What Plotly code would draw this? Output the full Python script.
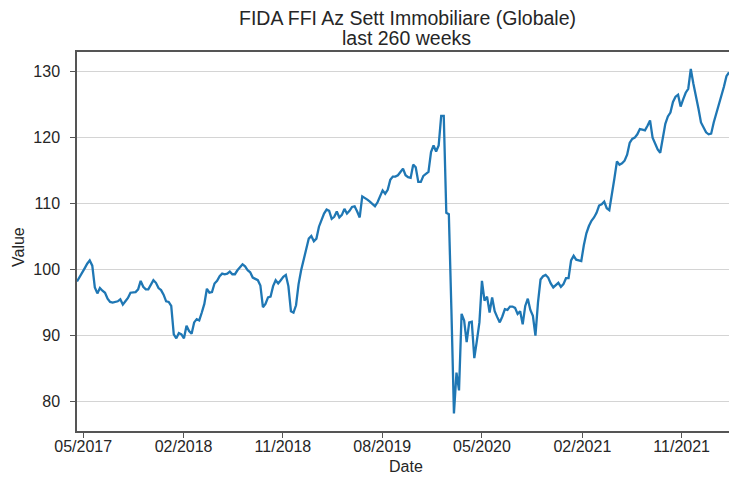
import pandas as pd
import plotly.graph_objects as go

# ---- data -------------------------------------------------------------
start_date = "2017-04-14"
values = [
    98.2, 98.8, 99.5, 100.2, 100.9, 101.4, 100.6, 97.3, 96.4, 97.2,
    96.8, 96.5, 95.6, 95.1, 95.0, 95.1, 95.2, 95.5, 94.7, 95.2,
    95.7, 96.5, 96.6, 96.6, 97.0, 98.3, 97.4, 97.0, 97.0, 97.6,
    98.4, 98.0, 97.2, 96.9, 96.2, 95.2, 95.1, 94.5, 90.2, 89.6,
    90.4, 90.2, 89.6, 91.5, 90.7, 90.3, 92.0, 92.5, 92.3, 93.5,
    94.8, 97.1, 96.5, 96.6, 97.9, 98.3, 99.0, 99.4, 99.3, 99.4,
    99.7, 99.3, 99.3, 99.9, 100.3, 100.8, 100.5, 99.9, 99.6, 98.8,
    98.6, 98.4, 97.6, 94.3, 94.8, 95.8, 95.9, 97.5, 98.4, 97.9,
    98.4, 98.9, 99.2, 97.5, 93.7, 93.5, 94.6, 97.8, 99.9, 101.5,
    103.4, 104.7, 105.1, 104.3, 104.7, 106.5, 107.5, 108.5, 109.1, 108.9,
    107.7, 108.0, 108.8, 107.9, 108.3, 109.2, 108.5, 108.9, 109.5, 109.6,
    108.8, 107.9, 111.1, 110.9, 110.6, 110.3, 109.9, 109.6, 110.2, 111.2,
    112.0, 111.5, 112.1, 113.6, 114.1, 114.1, 114.3, 114.8, 115.3, 114.3,
    114.0, 113.9, 115.9, 115.5, 113.3, 113.3, 114.2, 114.5, 114.8, 117.8,
    118.8, 117.9, 118.8, 123.3, 123.3, 108.6, 108.4, 94.0, 78.2, 84.4,
    81.7, 93.3, 92.3, 89.0, 92.0, 92.1, 86.6, 89.2, 92.0, 98.3,
    95.3, 95.9, 93.5, 95.8, 93.7, 92.8, 92.0, 92.9, 94.0, 93.9,
    94.4, 94.4, 94.2, 93.3, 93.7, 91.7, 94.5, 95.6, 93.9, 93.0,
    90.0, 95.0, 98.5, 99.0, 99.2, 98.8, 97.9, 97.3, 97.6, 98.0,
    97.4, 97.8, 98.7, 98.7, 101.4, 102.1, 101.5, 101.4, 101.3, 103.7,
    105.5, 106.6, 107.4, 107.9, 108.6, 109.7, 109.9, 110.3, 109.3, 109.0,
    111.2, 113.8, 116.4, 115.9, 116.1, 116.5, 117.4, 119.2, 119.8, 120.0,
    120.5, 121.3, 121.2, 121.1, 121.8, 122.6, 120.0, 119.2, 118.2, 117.7,
    119.8, 122.1, 123.2, 123.8, 125.4, 126.2, 126.5, 124.7, 125.8, 126.8,
    127.4, 130.4, 128.2, 126.5, 124.4, 122.3, 121.5, 120.8, 120.5, 120.6,
    122.3, 123.6, 125.0, 126.3, 127.7, 129.3, 129.9,
]
tick_dates = ["2017-05-01", "2018-02-01", "2018-11-01", "2019-08-01",
              "2020-05-01", "2021-02-01", "2021-11-01"]
tick_labels = ["05/2017", "02/2018", "11/2018", "08/2019",
               "05/2020", "02/2021", "11/2021"]
y_ticks = [80, 90, 100, 110, 120, 130]

title_line1 = "FIDA FFI Az Sett Immobiliare (Globale)"
title_line2 = "last 260 weeks"
x_label = "Date"
y_label = "Value"

dates = pd.date_range(start=start_date, periods=len(values), freq="7D")

# ---- figure -----------------------------------------------------------
W, H = 729, 477
FONT = "Liberation Sans, Arial, sans-serif"
TXT = "#262626"
SPINE = "#555555"
L, R, T, B = 77, 0, 52, 46

fig = go.Figure()
fig.add_trace(go.Scatter(
    x=dates, y=values, mode="lines",
    line=dict(color="#1f77b4", width=2.3),
    hoverinfo="x+y", showlegend=False,
))

fig.update_layout(
    width=W, height=H,
    margin=dict(l=L, r=R, t=T, b=B, pad=0),
    paper_bgcolor="white", plot_bgcolor="white",
    font=dict(family=FONT, color=TXT, size=16),
)


def py(pixel_y):
    """page pixel y -> paper fraction"""
    return (H - B - pixel_y) / (H - T - B)


def px(pixel_x):
    return (pixel_x - L) / (W - L - R)


fig.add_annotation(text=title_line1, xref="paper", yref="paper",
                   x=px(407), y=py(18), xanchor="center", yanchor="middle",
                   showarrow=False, font=dict(size=19.5, color=TXT))
fig.add_annotation(text=title_line2, xref="paper", yref="paper",
                   x=px(406), y=py(38), xanchor="center", yanchor="middle",
                   showarrow=False, font=dict(size=19.5, color=TXT))
fig.add_annotation(text=x_label, xref="paper", yref="paper",
                   x=px(406), y=py(466), xanchor="center", yanchor="middle",
                   showarrow=False, font=dict(size=16, color=TXT))
fig.add_annotation(text=y_label, xref="paper", yref="paper",
                   x=px(18), y=py(247), xanchor="center", yanchor="middle",
                   textangle=-90,
                   showarrow=False, font=dict(size=16, color=TXT))

fig.update_xaxes(
    range=[dates[0], dates[-1]],
    tickvals=pd.to_datetime(tick_dates), ticktext=tick_labels,
    showgrid=False, zeroline=False,
    showline=True, linecolor=SPINE, linewidth=1.5, mirror=True,
    ticks="outside", ticklen=5, tickwidth=1.3, tickcolor=SPINE,
    tickfont=dict(size=16, color=TXT),
    ticklabelstandoff=-5,
)
fig.update_yaxes(
    range=[75.55, 132.97],
    tickvals=y_ticks,
    showgrid=True, gridcolor="#d4d4d4", gridwidth=1, zeroline=False,
    showline=True, linecolor=SPINE, linewidth=1.5, mirror=False,
    ticks="outside", ticklen=5, tickwidth=1.3, tickcolor=SPINE,
    tickfont=dict(size=16, color=TXT),
    ticklabelstandoff=7,
)

fig.write_html("out.html",
               config={"displayModeBar": False},
               post_script="document.body.style.margin='0';"
                           "document.body.style.overflow='hidden';")
